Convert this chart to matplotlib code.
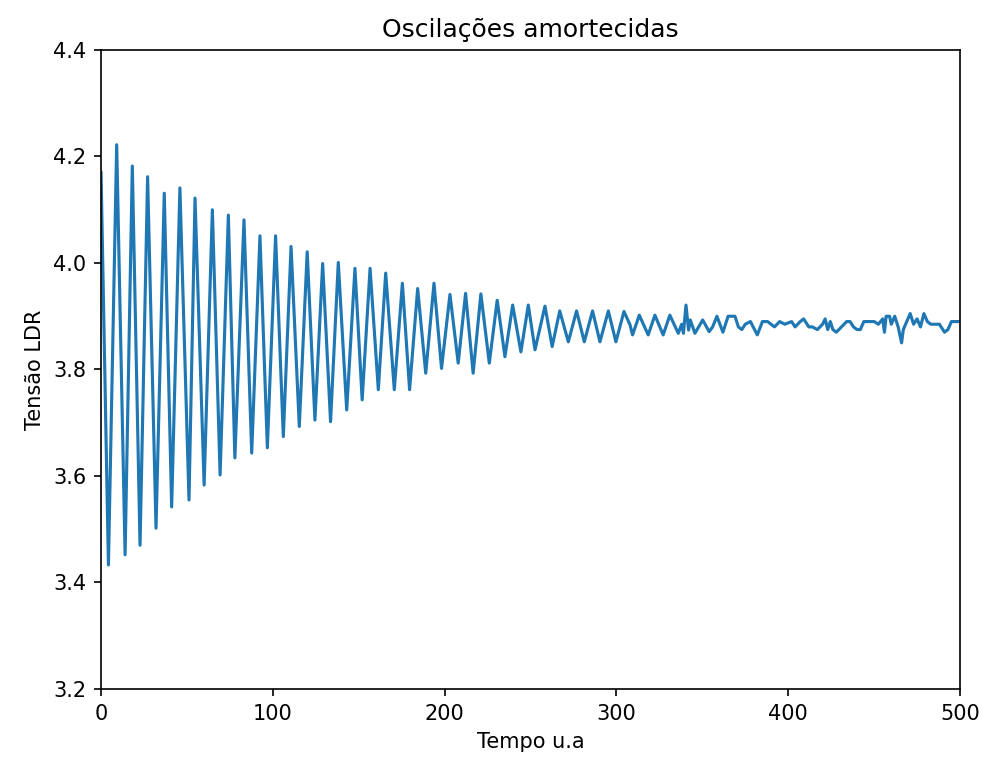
import matplotlib
matplotlib.use('Agg')
import numpy as np
import matplotlib.pyplot as plt

# peaks / troughs of the damped oscillation
t_osc = [0, 4.3, 9.1, 14, 18.2, 22.7, 27.1, 32, 36.8, 41.1, 45.9, 51.2, 54.7, 60,
         64.8, 69.3, 74.1, 77.9, 83.2, 87.7, 92.5, 96.8, 101.6, 106.1, 110.6,
         115.4, 120, 124.5, 129, 133.6, 138.1, 143, 147.8, 152, 156.6, 161.4,
         165.7, 170.7, 175.4, 179.6, 184.3, 189, 193.8, 198.2, 203.1, 207.9,
         212.2, 216.6, 221.1, 226, 230.6, 235.1, 239.6, 244.4, 248.7, 252.6,
         258.4, 262.6, 267, 272, 276.8, 281.3, 286.1, 290.4, 295.3, 299.7,
         304.4, 307.9, 309.4, 313.3, 318.5, 322.4, 327.2, 331.1, 336, 338, 339,
         340.5, 342, 343, 345.7, 350.2, 354]
v_osc = [4.17, 3.433, 4.222, 3.452, 4.182, 3.470, 4.162, 3.502, 4.131, 3.542,
         4.141, 3.555, 4.122, 3.583, 4.100, 3.602, 4.090, 3.634, 4.081, 3.643,
         4.051, 3.653, 4.051, 3.674, 4.031, 3.693, 4.021, 3.705, 3.999, 3.702,
         4.001, 3.724, 3.990, 3.743, 3.990, 3.762, 3.981, 3.762, 3.962, 3.762,
         3.952, 3.793, 3.962, 3.802, 3.941, 3.812, 3.943, 3.793, 3.942, 3.812,
         3.930, 3.824, 3.921, 3.833, 3.921, 3.837, 3.919, 3.843, 3.910, 3.852,
         3.910, 3.852, 3.910, 3.852, 3.910, 3.852, 3.909, 3.884, 3.865, 3.902,
         3.865, 3.902, 3.865, 3.902, 3.868, 3.885, 3.868, 3.921, 3.874, 3.893,
         3.868, 3.893, 3.871]

# noisy tail
t_tail = [356, 358.5, 362, 365, 369, 371, 373, 375, 378, 382, 385, 388, 390, 392,
          395, 398, 402, 404, 407, 409, 412, 414, 417, 420, 421.5, 423, 424.5,
          426, 428, 431, 434, 436, 438, 440, 442, 444, 447, 450, 452.5, 455, 456,
          457, 459, 460, 462, 464, 466, 467, 469, 471, 473, 475, 477, 479, 481,
          483, 485, 488, 489, 491, 493, 495, 498, 500]
v_tail = [3.88, 3.90, 3.87, 3.90, 3.90, 3.88, 3.875, 3.885, 3.89, 3.865, 3.89,
          3.89, 3.885, 3.88, 3.89, 3.885, 3.89, 3.88, 3.89, 3.895, 3.88, 3.88,
          3.875, 3.885, 3.895, 3.875, 3.89, 3.875, 3.87, 3.88, 3.89, 3.89, 3.88,
          3.875, 3.875, 3.89, 3.89, 3.89, 3.885, 3.895, 3.87, 3.90, 3.90, 3.885,
          3.90, 3.88, 3.85, 3.875, 3.89, 3.905, 3.885, 3.895, 3.88, 3.905, 3.89,
          3.885, 3.885, 3.885, 3.88, 3.87, 3.875, 3.89, 3.89, 3.89]

t = np.array(t_osc + t_tail)
v = np.array(v_osc + v_tail)

fig = plt.figure(figsize=(982 / 150, 762 / 150), dpi=150)
ax = fig.add_axes([0.1029, 0.0958, 0.8747, 0.8386])
ax.plot(t, v, color='#1f77b4', lw=1.5)
ax.set_xlim(0, 500)
ax.set_ylim(3.2, 4.4)
ax.set_title('Oscilações amortecidas')
ax.set_xlabel('Tempo u.a')
ax.set_ylabel('Tensão LDR')

fig.savefig('out.png', dpi=150)
